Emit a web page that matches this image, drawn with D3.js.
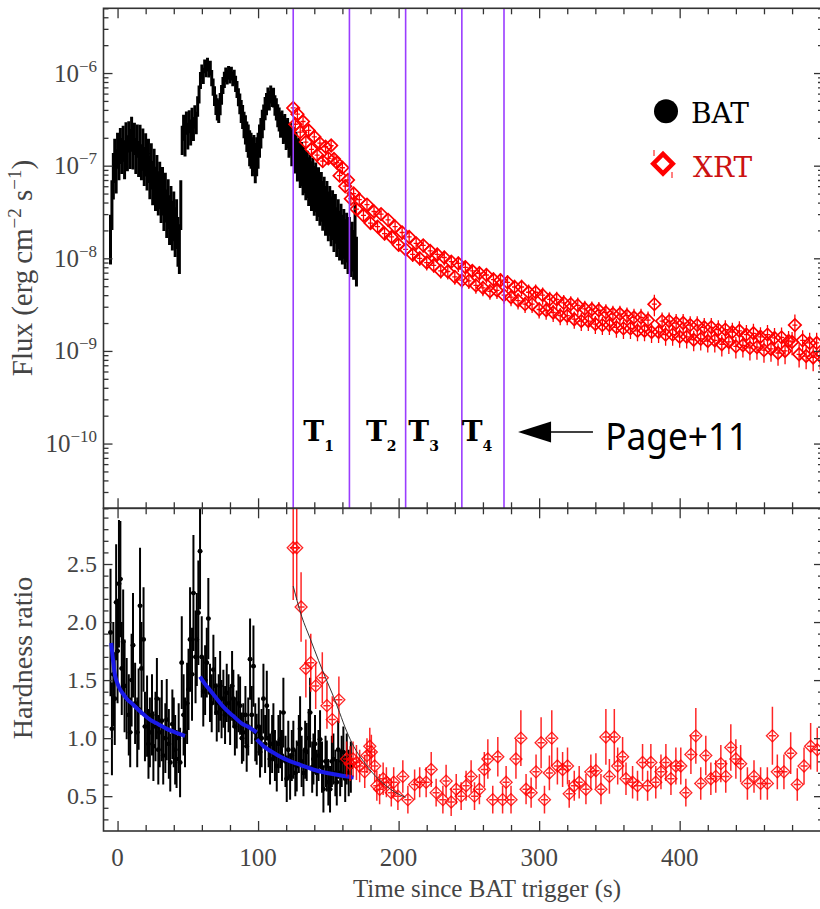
<!DOCTYPE html>
<html>
<head>
<meta charset="utf-8">
<script src="https://cdn.jsdelivr.net/npm/d3@7"></script>
<style>
  body { margin: 0; background: #fff; }
</style>
</head>
<body>
<svg id="chart" width="820" height="909"></svg>
<script>

// BAT flux light curve, 1 s bins (flux in 1e-8 erg cm-2 s-1, relative error)
const batTime = [
  -5,-4,-3,-2,-1,0,1,2,3,4, 5,6,7,8,9,10,11,12,13,14, 15,16,17,18,19,20,21,22,23,24,
  25,26,27,28,29,30,31,32,33,34, 35,36,37,38,39,40,41,42,43,44, 45,46,47,48,49,50,51,52,53,54,
  55,56,57,58,59,60,61,62,63,64, 65,66,67,68,69,70,71,72,73,74, 75,76,77,78,79,80,81,82,83,84,
  85,86,87,88,89,90,91,92,93,94, 95,96,97,98,99,100,101,102,103,104, 105,106,107,108,109,110,111,112,113,114,
  115,116,117,118,119,120,121,122,123,124, 125,126,127,128,129,130,131,132,133,134, 135,136,137,138,139,140,141,142,143,144,
  145,146,147,148,149,150,151,152,153,154, 155,156,157,158,159,160,161,162,163,164, 165,166,167,168,169,170
];
const batFlux = [
  1.9,4.5,9,13,10,16,12,18,14,19, 13,21,15,22,17,24,16,21,14,20, 13,19,12,17,11,15,10,13,8.5,11.5,
  7.5,10,6.5,8.5,5.8,7.2,5,6.3,4.2,5.4, 3.6,4.6,3.1,3.9,2.7,3.4,2.3,2.8,1.8,1.5, 4.5,20,27,19,30,22,31,24,33,26,
  35,30,45,60,85,105,95,120,110,125, 108,115,90,72,58,47,42,40,48,60, 75,86,97,92,102,94,100,88,92,78,
  68,56,48,40,35,29,26,22,20,17, 16,14,15,12,14,16,20,24,30,35, 43,48,56,52,60,55,56,46,42,36,
  33,29,30,26,27,23,24,20,21,17, 18.5,15,16,13,13.5,11.5,12,10,10.5,9, 9.5,8,8.5,7.2,7.8,6.4,7,5.6,6.2,5,
  5.5,4.4,4.9,3.9,4.4,3.4,3.9,3,3.5,2.6, 3.2,2.3,2.8,2.1,2.5,1.9,2.2,1.7,2,1.5, 1.8,1.4,1.6,1.3,2.6,1.1
];
const batFluxErr = [
  0.55,0.55,0.52,0.5,0.5,0.42,0.42,0.42,0.42,0.42, 0.45,0.4,0.42,0.37,0.46,0.41,0.43,0.38,0.42,0.39,
  0.42,0.46,0.42,0.48,0.45,0.49,0.46,0.5,0.49,0.52, 0.5,0.52,0.5,0.53,0.5,0.53,0.52,0.54,0.53,0.55,
  0.54,0.55,0.55,0.55,0.55,0.55,0.55,0.55,0.55,0.55, 0.55,0.35,0.31,0.34,0.28,0.32,0.28,0.31,0.28,0.29,
  0.28,0.27,0.25,0.22,0.21,0.18,0.2,0.17,0.18,0.17, 0.17,0.18,0.2,0.21,0.24,0.25,0.27,0.28,0.27,0.24,
  0.21,0.2,0.18,0.18,0.17,0.18,0.17,0.18,0.18,0.2, 0.21,0.22,0.25,0.28,0.29,0.32,0.35,0.36,0.39,0.42,
  0.42,0.45,0.43,0.46,0.45,0.42,0.39,0.36,0.34,0.31, 0.28,0.27,0.25,0.24,0.22,0.22,0.24,0.25,0.27,0.28,
  0.29,0.31,0.31,0.34,0.34,0.36,0.36,0.39,0.39,0.42, 0.42,0.45,0.45,0.48,0.48,0.5,0.5,0.52,0.52,0.53,
  0.53,0.54,0.54,0.55,0.55,0.55,0.55,0.55,0.55,0.55, 0.55,0.55,0.55,0.55,0.55,0.55,0.55,0.55,0.55,0.55,
  0.55,0.55,0.55,0.55,0.55,0.55,0.55,0.55,0.55,0.55, 0.55,0.55,0.55,0.55,0.55,0.55
];

// XRT flux light curve (flux in 1e-9 erg cm-2 s-1, relative error)
const xrtTime = [
  125,126.5,128,130,132,134,136,138,140,142,144,146,148,150,152,154,156,158,160,162,164,166,168,170,172,
  175,177.5,180,182.5,185,187.5,190,192.5,195,197.5, 200,202.5,205,207.5,210,212.5,215,217.5,220,222.5,
  225,227.5,230,232.5,235,237.5,240,242.5,245,247.5, 250,252.5,255,257.5,260,262.5,265,267.5,270,272.5,
  275,277.5,280,282.5,285,287.5,290,292.5,295,297.5, 300,302.5,305,307.5,310,312.5,315,317.5,320,322.5,
  325,327.5,330,332.5,335,337.5,340,342.5,345,347.5, 350,352.5,355,357.5,360,362.5,365,367.5,370,372.5,
  375,377.5,380,382,
  385,387.5,390,392.5,395,397.5,400,402.5,405,407.5, 410,412.5,415,417.5,420,422.5,425,427.5,430,432.5,
  435,437.5,440,442.5,445,447.5,450,452.5,455,457.5, 460,462.5,465,467.5,470,472.5,475,477.5,480,482,
  485,487.5,490,492.5,495,497.5,500
];
const xrtFlux = [
  420,280,360,230,300,180,240,150,205,130,175,112,160,120,165,118,108,78,95,60,70,44,50,34,43,
  29,38,24,32,22,30,18.5,26,17,22, 14,19,12.5,17,11,14.5,10,13.8,9,12,
  8.4,11,7.3,10.2,7.2,9.2,6.3,8.8,5.8,8.0, 5.7,7.3,5.1,6.9,4.8,6.6,4.4,5.9,4.5,5.8,
  4.0,5.5,3.8,4.9,3.5,4.9,3.2,4.3,3.2,4.3, 2.8,4.0,2.75,3.6,2.6,3.6,2.4,3.3,2.4,3.2,
  2.2,3.1,2.1,2.85,2.1,2.8,1.95,2.75,1.9,2.6, 1.9,2.5,1.8,2.5,1.75,2.4,1.75,2.3,1.65,2.3,
  1.65,2.15,1.6,3.2,
  1.6,2.1,1.5,2.1,1.5,2.0,1.42,2.0,1.42,1.9, 1.32,1.9,1.35,1.8,1.28,1.8,1.3,1.7,1.18,1.7,
  1.25,1.6,1.12,1.65,1.15,1.5,1.08,1.55,1.1,1.42, 1.02,1.5,1.05,1.38,0.95,1.4,1.0,1.28,1.25,1.9,
  0.92,1.3,0.88,1.22,0.85,1.22,0.88
];
const xrtFluxErr = [
  0.16,0.18,0.16,0.17,0.16,0.15,0.16,0.15,0.15,0.15,0.15,0.14,0.15,0.14,0.15,0.14,0.14,0.14,0.14,0.14,0.14,0.14,0.14,0.14,0.14,
  0.15,0.16,0.15,0.16,0.15,0.16,0.16,0.16,0.16,0.17, 0.16,0.17,0.16,0.17,0.17,0.17,0.17,0.17,0.18,0.17,
  0.17,0.18,0.17,0.18,0.18,0.18,0.18,0.19,0.18,0.19, 0.18,0.19,0.19,0.19,0.19,0.19,0.19,0.2,0.19,0.2,
  0.19,0.2,0.2,0.2,0.2,0.2,0.2,0.21,0.2,0.21, 0.2,0.21,0.21,0.21,0.21,0.21,0.21,0.22,0.21,0.22,
  0.21,0.22,0.22,0.22,0.22,0.22,0.22,0.23,0.22,0.23, 0.22,0.23,0.23,0.23,0.23,0.23,0.23,0.24,0.23,0.24,
  0.23,0.24,0.24,0.26,
  0.24,0.24,0.24,0.24,0.24,0.25,0.24,0.25,0.25,0.25, 0.25,0.25,0.25,0.26,0.25,0.26,0.26,0.26,0.26,0.26,
  0.26,0.26,0.26,0.27,0.26,0.27,0.27,0.27,0.27,0.27, 0.27,0.27,0.27,0.28,0.27,0.28,0.28,0.28,0.28,0.3,
  0.28,0.29,0.28,0.29,0.29,0.29,0.29
];

// BAT hardness ratio
const batHrTime = [
  -5,-4,-3,-2,-1,0,1,2,3,4, 5,6.5,8,9,10,11,12.5,14,15,16, 17,18.5,19.5,21,22,23,24.5,25.5,27,28,
  29,30,31.5,32.5,34,35,36.5,37.5,39,40, 41,42,43.5,44.5,45.7,47,48,49.5,50.5,51.6,
  53,54,55.5,56.4,57.5,58.7,59.9,61,62.3,63.5, 64.6,65.8,67,68.2,69.5,70.6,72,73,74,75.3,
  76.5,77.7,79,80.1,81.5,82.4,83.5,84.8,86,87.2, 88.5,89.5,91,91.9,93,94.3,95.5,96.7,98,99,
  100.5,101.4,102.5,103.8,105,106.2,107.5,108.5,110,110.9, 112,113.3,114.5,115.7,117,118,119.5,120.4,121.5,122.8,
  124,125.1,126.5,127.5,129,129.9,131,132.3,133.5,134.6, 136,137,138.5,139.4,140.5,141.8,143,144.1,145.5,146.5,
  148,148.9,150,151.2,152.5,153.6,155,156,157,158.4, 159.5,160.7,162,163.1,164.5,166
];
const batHr = [
  1.91,1.08,1.55,1.34,2.17,1.75,2.33,2.37,1.6,1.83, 1.45,1.34,1.2,1.05,1.5,1.8,1.3,1.05,1.25,2.14,
  1.6,1.85,1.1,1.19,0.95,1.05,1.2,0.93,1.1,1.34, 0.9,1.05,1.15,0.85,1.0,1.16,0.95,0.79,1.12,1.05,
  0.9,0.82,1.0,0.79,1.65,1.2,1.05,1.3,1.42,1.85, 1.55,2.25,1.7,1.85,2.08,2.61,1.7,1.4,1.5,1.65,
  2.03,1.39,1.3,1.59,1.45,1.22,1.3,1.45,1.25,1.34, 1.2,1.39,1.3,1.19,1.45,1.34,1.1,1.16,1.3,1.28,
  1.0,1.05,1.2,0.93,1.1,1.68,1.2,1.62,1.05,0.99, 1.1,0.88,1.0,1.34,0.95,1.28,1.0,0.82,0.95,1.05,
  0.85,0.76,0.95,0.99,0.85,1.22,0.8,0.65,0.9,0.67, 0.85,0.9,0.7,0.76,0.95,1.08,0.8,0.7,0.9,0.88,
  1.0,1.22,0.75,0.82,0.95,0.7,0.85,0.99,0.75,0.56, 0.8,0.76,0.62,0.56,0.8,0.82,0.7,0.62,0.9,0.7,
  0.8,0.88,0.65,0.82,0.7,0.75
];
const batHrErr = [
  0.55,0.4,0.45,0.4,0.5,0.45,0.55,0.5,0.4,0.45, 0.4,0.35,0.35,0.3,0.4,0.45,0.35,0.3,0.35,0.5,
  0.4,0.45,0.3,0.35,0.3,0.3,0.35,0.3,0.3,0.35, 0.3,0.3,0.35,0.25,0.3,0.35,0.3,0.25,0.3,0.3,
  0.3,0.25,0.3,0.3,0.4,0.35,0.3,0.35,0.35,0.45, 0.4,0.5,0.4,0.4,0.45,0.5,0.35,0.3,0.3,0.3,
  0.35,0.25,0.25,0.3,0.25,0.25,0.25,0.3,0.25,0.25, 0.25,0.25,0.25,0.25,0.3,0.25,0.25,0.25,0.25,0.25,
  0.22,0.25,0.25,0.22,0.25,0.35,0.25,0.35,0.25,0.22, 0.25,0.22,0.25,0.3,0.25,0.3,0.25,0.22,0.25,0.25,
  0.22,0.22,0.25,0.25,0.22,0.3,0.22,0.2,0.25,0.2, 0.22,0.25,0.2,0.22,0.25,0.28,0.22,0.2,0.25,0.25,
  0.25,0.3,0.22,0.22,0.25,0.2,0.22,0.25,0.22,0.2, 0.22,0.22,0.2,0.2,0.22,0.22,0.2,0.2,0.25,0.2,
  0.22,0.22,0.2,0.22,0.2,0.22
];

// XRT hardness ratio
const xrtHrTime = [
  125,127.5,130.6,134,137.5,141,145.7,149,152.8,157.5, 163,165.5,167.6,170,172.3,175.9,177.5,179.5,180.6,183,
  184.5,186.5,189,191.3,194.8,196.5,199.5,203,206.6,211.4, 215,219.6,223.2,226.7,231.5,233.8,237.4,241,244.5,248,
  251.6,254,257.5,261,263.5,267,270.6,274,276.5,280, 283.5,287,290.7,294.3,297.8,301.4,303.8,307.3,309,313,
  316.7,320.2,321.4,325,328.5,333.3,336.8,340.4,344,347.5, 350,353.5,355.9,359.4,361.8,366.5,370,373.6,377.2,379.5,
  383,386.7,390.2,393.8,397.3,400.8,404.4,408,411.5,415, 418.6,422.2,425.7,429.3,432.8,436.4,440,443.4,448.2,452.9,
  457.6,462.4,466,469.5,474.2,479,483.7,488.5,493.2,497.9
];
const xrtHr = [
  2.64,2.64,2.13,1.6,1.65,1.45,1.52,1.28,1.16,1.33, 0.82,0.78,0.82,0.79,0.76,0.71,0.85,0.93,0.88,0.76,
  0.59,0.56,0.65,0.62,0.53,0.62,0.5,0.67,0.47,0.6, 0.62,0.62,0.73,0.53,0.47,0.63,0.45,0.56,0.5,0.59,
  0.67,0.5,0.56,0.73,0.82,0.47,0.84,0.47,0.62,0.47, 0.82,1.0,0.56,0.53,0.71,0.96,0.47,0.7,1.0,0.76,
  0.73,0.76,0.52,0.59,0.62,0.56,0.71,0.72,0.56,1.01, 0.67,1.01,0.76,0.84,0.65,0.62,0.59,0.79,0.59,0.79,
  0.62,0.71,0.79,0.65,0.76,0.76,0.53,0.86,1.02,0.61, 0.85,0.65,0.67,0.78,0.67,0.92,0.82,0.78,0.61,0.67,
  0.61,0.61,1.02,0.71,0.71,0.87,0.6,0.76,0.93,0.9
];
const xrtHrErr = [
  0.45,0.45,0.3,0.25,0.25,0.2,0.22,0.2,0.2,0.2, 0.15,0.15,0.15,0.15,0.14,0.14,0.15,0.16,0.15,0.14,
  0.13,0.13,0.14,0.13,0.12,0.13,0.12,0.14,0.12,0.13, 0.13,0.13,0.15,0.12,0.12,0.14,0.12,0.13,0.12,0.13,
  0.14,0.12,0.13,0.15,0.17,0.12,0.17,0.12,0.14,0.12, 0.17,0.24,0.13,0.13,0.15,0.22,0.12,0.15,0.24,0.16,
  0.15,0.16,0.12,0.13,0.14,0.13,0.15,0.15,0.13,0.24, 0.15,0.24,0.16,0.17,0.14,0.14,0.13,0.16,0.13,0.16,
  0.14,0.15,0.16,0.14,0.16,0.16,0.12,0.17,0.24,0.14, 0.17,0.14,0.14,0.16,0.14,0.2,0.17,0.16,0.14,0.14,
  0.14,0.14,0.25,0.15,0.15,0.18,0.14,0.16,0.2,0.19
];

// fitted hardness curves [time, ratio]
const batFit1 = [[-4.5,1.82],[-3,1.65],[-1.8,1.54],[0,1.47],[1.8,1.42],[4,1.38],[6.5,1.34],[11,1.29],
  [17,1.22],[23,1.16],[29,1.12],[35,1.08],[41,1.05],[48,1.02]];
const batFit2 = [[58.7,1.53],[62,1.47],[66,1.41],[70.6,1.34],[76,1.26],[82.4,1.19],[88,1.13],[94,1.09],[99,1.05]];
const batFit3 = [[99,0.99],[105,0.92],[113,0.86],[121,0.81],[130,0.77],[139,0.73],[149,0.7],[158,0.68],[168,0.66]];
const xrtFit = [[125,2.31],[131,2.05],[137,1.86],[143,1.67],[148,1.52],[153.6,1.36],[158,1.22],[163,1.06],
  [168,0.93],[175,0.8],[183,0.68],[191,0.59],[198,0.53],[205,0.49]];

// spectral intervals and their labels
const intervalLines = [125, 165, 205, 245, 275];
const intervalLabels = ['1', '2', '3', '4'];
const intervalLabelTime = [132.2, 176.8, 206.9, 244.9];

// ticks
const xMajor = [0, 100, 200, 300, 400, 500];
const xLabels = [0, 100, 200, 300, 400];
const fluxExp = [-10, -9, -8, -7, -6];
const hrLabels = [0.5, 1.0, 1.5, 2.0, 2.5];

const svg = d3.select('#chart');

const x = d3.scaleLinear().domain([-10, 502]).range([103.5, 823]);
const yF = d3.scaleLog().domain([2e-11, 5e-6]).range([508.3, 8.3]);
const yH = d3.scaleLinear().domain([0.2, 2.98]).range([831, 508.3]);

const pTop = { y0: 8.3, y1: 508.3 };
const pBot = { y0: 508.3, y1: 831 };
const x0 = 103.5, x1 = 823;

const defs = svg.append('defs');
defs.append('clipPath').attr('id', 'clipTop').append('rect')
  .attr('x', x0).attr('y', pTop.y0).attr('width', x1 - x0).attr('height', pTop.y1 - pTop.y0);
defs.append('clipPath').attr('id', 'clipBot').append('rect')
  .attr('x', x0).attr('y', pBot.y0).attr('width', x1 - x0).attr('height', pBot.y1 - pBot.y0);

const axisColor = '#333';
const textColor = '#444';
const serif = '"Liberation Serif", "DejaVu Serif", serif';

// ---------- top panel data ----------
const gTop = svg.append('g').attr('clip-path', 'url(#clipTop)');

const bat = batTime.map((t, i) => ({ t, f: batFlux[i] * 1e-8, e: batFluxErr[i] }));
gTop.append('g').selectAll('path')
  .data(bat)
  .join('path')
    .attr('d', d => `M${x(d.t)},${yF(d.f * (1 + d.e))}V${yF(d.f * (1 - d.e))}` +
      `M${x(d.t - 1)},${yF(d.f)}H${x(d.t + 1)}`)
    .attr('stroke', '#000')
    .attr('stroke-width', 3)
    .attr('fill', 'none');

const xrt = xrtTime.map((t, i) => ({ t, f: xrtFlux[i] * 1e-9, e: xrtFluxErr[i] }));
const gXrt = gTop.append('g').attr('stroke', '#ff0000').attr('fill', 'none');
gXrt.selectAll('path.err')
  .data(xrt)
  .join('path')
    .attr('class', 'err')
    .attr('d', d => `M${x(d.t)},${yF(d.f * (1 + d.e))}V${yF(d.f * (1 - d.e))}` +
      `M${x(d.t - 1.8)},${yF(d.f)}H${x(d.t + 1.8)}`)
    .attr('stroke-width', 1.3);
gXrt.selectAll('path.mk')
  .data(xrt)
  .join('path')
    .attr('class', 'mk')
    .attr('d', d3.symbol(d3.symbolSquare, 78))
    .attr('transform', d => `translate(${x(d.t)},${yF(d.f)}) rotate(45)`)
    .attr('stroke-width', 1.7);

// interval lines
svg.append('g').selectAll('line')
  .data(intervalLines)
  .join('line')
    .attr('x1', d => x(d)).attr('x2', d => x(d))
    .attr('y1', pTop.y0).attr('y2', pTop.y1)
    .attr('stroke', '#9a3cff')
    .attr('stroke-width', 1.6);

// ---------- bottom panel data ----------
const gBot = svg.append('g').attr('clip-path', 'url(#clipBot)');

const batH = batHrTime.map((t, i) => ({ t, h: batHr[i], e: batHrErr[i] }));
const gBatH = gBot.append('g');
gBatH.selectAll('path')
  .data(batH)
  .join('path')
    .attr('d', d => `M${x(d.t)},${yH(d.h + d.e)}V${yH(d.h - d.e)}` +
      `M${x(d.t - 1.6)},${yH(d.h)}H${x(d.t + 1.6)}`)
    .attr('stroke', '#000')
    .attr('stroke-width', 2)
    .attr('fill', 'none');
gBatH.selectAll('circle')
  .data(batH)
  .join('circle')
    .attr('cx', d => x(d.t))
    .attr('cy', d => yH(d.h))
    .attr('r', 2.4)
    .attr('fill', '#000');

const fitLine = d3.line()
  .x(d => x(d[0]))
  .y(d => yH(d[1]))
  .curve(d3.curveMonotoneX);

[batFit1, batFit2, batFit3].forEach(fit => {
  gBot.append('path')
    .attr('d', fitLine(fit))
    .attr('fill', 'none')
    .attr('stroke', '#1a1ae8')
    .attr('stroke-width', 4);
});

const xrtH = xrtHrTime.map((t, i) => ({ t, h: xrtHr[i], e: xrtHrErr[i] }));
const gXrtH = gBot.append('g').attr('stroke', '#ff0000').attr('fill', 'none').attr('stroke-opacity', 0.85);
gXrtH.selectAll('path.err')
  .data(xrtH)
  .join('path')
    .attr('class', 'err')
    .attr('d', d => `M${x(d.t)},${yH(d.h + d.e)}V${yH(d.h - d.e)}` +
      `M${x(d.t - 2.5)},${yH(d.h)}H${x(d.t + 2.5)}`)
    .attr('stroke-width', 1.5);
gXrtH.selectAll('path.mk')
  .data(xrtH)
  .join('path')
    .attr('class', 'mk')
    .attr('d', d3.symbol(d3.symbolSquare, 72))
    .attr('transform', d => `translate(${x(d.t)},${yH(d.h)}) rotate(45)`)
    .attr('stroke-width', 1.3);

gBot.append('path')
  .attr('d', fitLine(xrtFit))
  .attr('fill', 'none')
  .attr('stroke', '#333')
  .attr('stroke-width', 1);

// ---------- axes and frames ----------
const styleAxis = g => {
  g.select('.domain').remove();
  g.selectAll('line').attr('stroke', axisColor).attr('stroke-width', 1.3);
};

const xMinor = d3.range(-0, 501, 20).filter(v => v % 100 !== 0);

const addXTicks = (yPos, axisFn) => {
  svg.append('g').attr('transform', `translate(0,${yPos})`)
    .call(axisFn(x).tickValues(xMajor).tickSize(-10).tickSizeOuter(0).tickFormat(''))
    .call(styleAxis);
  svg.append('g').attr('transform', `translate(0,${yPos})`)
    .call(axisFn(x).tickValues(xMinor).tickSize(-6).tickSizeOuter(0).tickFormat(''))
    .call(styleAxis);
};
addXTicks(pTop.y0, d3.axisTop);
addXTicks(pTop.y1, d3.axisBottom);
addXTicks(pBot.y0, d3.axisTop);
addXTicks(pBot.y1, d3.axisBottom);

// log ticks on flux axis
const [fLo, fHi] = yF.domain();
const fluxMajor = d3.range(-11, -5).map(e => Math.pow(10, e)).filter(v => v >= fLo && v <= fHi);
const fluxMinor = [];
d3.range(-11, -5).forEach(e => {
  d3.range(2, 10).forEach(m => {
    const v = m * Math.pow(10, e);
    if (v >= fLo && v <= fHi) fluxMinor.push(v);
  });
});
const addYTicks = (scale, major, minor, majorLen, minorLen) => {
  [[d3.axisLeft, x0], [d3.axisRight, x1]].forEach(([axisFn, xPos]) => {
    svg.append('g').attr('transform', `translate(${xPos},0)`)
      .call(axisFn(scale).tickValues(major).tickSize(-majorLen).tickSizeOuter(0).tickFormat(''))
      .call(styleAxis);
    svg.append('g').attr('transform', `translate(${xPos},0)`)
      .call(axisFn(scale).tickValues(minor).tickSize(-minorLen).tickSizeOuter(0).tickFormat(''))
      .call(styleAxis);
  });
};
addYTicks(yF, fluxMajor, fluxMinor, 9, 5);

const hrMajor = [0.5, 1.0, 1.5, 2.0, 2.5];
const hrMinor = d3.range(3, 30).map(v => v / 10).filter(v => Math.abs(v * 2 - Math.round(v * 2)) > 1e-6);
addYTicks(yH, hrMajor, hrMinor, 9, 5);

// frames
[pTop, pBot].forEach(p => {
  svg.append('rect')
    .attr('x', x0).attr('y', p.y0)
    .attr('width', x1 - x0).attr('height', p.y1 - p.y0)
    .attr('fill', 'none')
    .attr('stroke', axisColor)
    .attr('stroke-width', 1.6);
});

// ---------- tick labels ----------
const fluxLab = svg.append('g')
  .attr('font-family', serif)
  .attr('fill', textColor)
  .attr('text-anchor', 'end');
fluxExp.forEach(e => {
  const t = fluxLab.append('text')
    .attr('x', 97)
    .attr('y', yF(Math.pow(10, e)) + 8.5)
    .attr('font-size', 25);
  t.append('tspan').text('10');
  t.append('tspan').attr('font-size', 17).attr('dy', -10).text('\u2212' + Math.abs(e));
});

svg.append('g')
  .attr('font-family', serif)
  .attr('fill', textColor)
  .attr('text-anchor', 'end')
  .attr('font-size', 24)
  .selectAll('text')
  .data(hrLabels)
  .join('text')
    .attr('x', 97)
    .attr('y', d => yH(d) + 8)
    .text(d => d3.format('.1f')(d));

svg.append('g')
  .attr('font-family', serif)
  .attr('fill', textColor)
  .attr('text-anchor', 'middle')
  .attr('font-size', 25)
  .selectAll('text')
  .data(xLabels)
  .join('text')
    .attr('x', d => x(d))
    .attr('y', 866)
    .text(d => d);

// ---------- axis titles ----------
const fluxTitle = svg.append('text')
  .attr('transform', `translate(32, 268) rotate(-90)`)
  .attr('text-anchor', 'middle')
  .attr('font-family', serif)
  .attr('font-size', 29)
  .attr('fill', textColor);
fluxTitle.append('tspan').text('Flux (erg\u2009cm');
fluxTitle.append('tspan').attr('font-size', 19).attr('dy', -11).text('\u22122');
fluxTitle.append('tspan').attr('dy', 11).text(' s');
fluxTitle.append('tspan').attr('font-size', 19).attr('dy', -11).text('\u22121');
fluxTitle.append('tspan').attr('dy', 11).text(')');

svg.append('text')
  .attr('transform', `translate(32, 658) rotate(-90)`)
  .attr('text-anchor', 'middle')
  .attr('font-family', serif)
  .attr('font-size', 28)
  .attr('fill', textColor)
  .text('Hardness ratio');

svg.append('text')
  .attr('x', 487)
  .attr('y', 897)
  .attr('text-anchor', 'middle')
  .attr('font-family', serif)
  .attr('font-size', 25)
  .attr('fill', textColor)
  .text('Time since BAT trigger (s)');

// ---------- interval labels ----------
intervalLabels.forEach((s, i) => {
  const t = svg.append('text')
    .attr('x', x(intervalLabelTime[i]))
    .attr('y', 441)
    .attr('font-family', '"DejaVu Serif", serif')
    .attr('font-weight', 'bold')
    .attr('font-size', 28)
    .attr('fill', '#000');
  t.append('tspan').text('T');
  t.append('tspan').attr('font-size', 14).attr('dy', 10).text(s);
});

// arrow pointing to the last interval
const arrowY = yF(1.33e-10);
svg.append('path')
  .attr('d', `M${x(285)},${arrowY}L${x(308.5)},${arrowY - 10.5}L${x(308.5)},${arrowY + 10.5}Z`)
  .attr('fill', '#000');
svg.append('line')
  .attr('x1', x(308)).attr('x2', x(338.3))
  .attr('y1', arrowY).attr('y2', arrowY)
  .attr('stroke', '#000')
  .attr('stroke-width', 1.5);
svg.append('text')
  .attr('x', x(347))
  .attr('y', 450)
  .attr('font-family', '"Noto Sans", sans-serif')
  .attr('font-size', 38)
  .attr('textLength', 143)
  .attr('lengthAdjust', 'spacingAndGlyphs')
  .attr('fill', '#000')
  .text('Page+11');

// ---------- legend ----------
const legend = svg.append('g').attr('font-family', '"DejaVu Serif", serif').attr('font-size', 28);
legend.append('circle')
  .attr('cx', 666).attr('cy', 111.3).attr('r', 12)
  .attr('fill', '#000');
legend.append('text')
  .attr('x', 691).attr('y', 123.3)
  .attr('fill', '#000')
  .text('BAT');
legend.append('path')
  .attr('d', 'M654,150V156M672,172V178')
  .attr('stroke', '#ff0000')
  .attr('stroke-width', 1);
legend.append('path')
  .attr('d', d3.symbol(d3.symbolSquare, 190))
  .attr('transform', 'translate(663,163.7) rotate(45)')
  .attr('fill', 'none')
  .attr('stroke', '#ff0000')
  .attr('stroke-width', 4.5);
legend.append('text')
  .attr('x', 693).attr('y', 177.3)
  .attr('fill', '#cc1111')
  .text('XRT');

</script>
</body>
</html>
